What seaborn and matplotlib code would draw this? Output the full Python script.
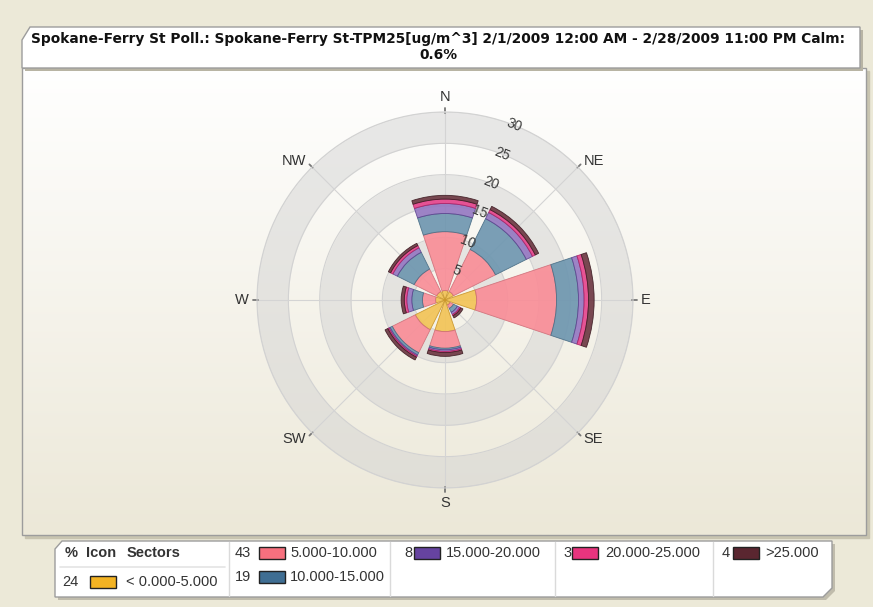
import numpy as np
import seaborn as sns
import matplotlib.pyplot as plt
from matplotlib.patches import Polygon, Rectangle

# data (percent of hours per direction & speed class)
directions = ["N", "NE", "E", "SE", "S", "SW", "W", "NW"]
class_labels = ["< 0.000-5.000", "5.000-10.000", "10.000-15.000",
                "15.000-20.000", "20.000-25.000", ">25.000"]
class_pct = [24, 43, 19, 8, 3, 4]

lt5 = [1.5, 1.5, 5.05, 0.9, 5.05, 5.3, 1.5, 1.5]
c5_10 = [9.4, 7.5, 12.75, 0.6, 2.65, 4.1, 2.1, 4.0]
c10_15 = [2.9, 5.5, 3.5, 0.7, 0.25, 0.4, 1.7, 3.0]
c15_20 = [1.6, 1.1, 0.9, 0.4, 0.25, 0.2, 0.8, 0.8]
c20_25 = [0.7, 0.5, 0.7, 0.2, 0.2, 0.2, 0.4, 0.4]
gt25 = [0.6, 0.6, 0.9, 0.4, 0.6, 0.5, 0.5, 0.4]

ring_ticks = [5, 10, 15, 20, 25, 30]
title = ("Spokane-Ferry St Poll.: Spokane-Ferry St-TPM25[ug/m^3] 2/1/2009 12:00 AM - "
         "2/28/2009 11:00 PM Calm:\n0.6%")

sns.set_theme(style="white")
plt.rcParams['font.family'] = ['Liberation Sans', 'DejaVu Sans']

fills = sns.color_palette(["#F2C457", "#F98E98", "#6F97B0", "#9579C2", "#E5468E", "#6E3944"])
edges = sns.color_palette(["#C9962A", "#D0707A", "#4A6E86", "#5E4490", "#B02466", "#3E1E24"])
icon_fills = sns.color_palette(["#F3B323", "#F7707E", "#3F6E93", "#6643A0", "#E8347E", "#5A2630"])

W, H = 873, 607
fig = plt.figure(figsize=(W / 100, H / 100), dpi=100, facecolor="#ECE9D8")

# background frame in pixel coords
bg = fig.add_axes([0, 0, 1, 1], zorder=0)
bg.set_xlim(0, W)
bg.set_ylim(H, 0)
bg.axis("off")

# plot panel with vertical gradient
grad = np.linspace(0, 1, 256)[:, None]
top = np.array([1.0, 1.0, 1.0])
bot = np.array([236, 232, 216]) / 255
img = top[None, None, :] * (1 - grad[:, :, None]) + bot[None, None, :] * grad[:, :, None]
bg.add_patch(Rectangle((25, 71), 844, 467, color="#C8C4B0", zorder=0))
bg.imshow(img, extent=[22, 866, 535, 68], aspect="auto", zorder=1)
bg.add_patch(Rectangle((22, 68), 844, 467, fill=False, ec="#9C9C9C", lw=1, zorder=2))

# title box
bg.add_patch(Polygon([(25, 43), (33, 30), (863, 30), (863, 71), (25, 71)],
                     closed=True, fc="#B8B4A4", ec="none", zorder=2))
bg.add_patch(Polygon([(22, 40), (30, 27), (860, 27), (860, 68), (22, 68)],
                     closed=True, fc="white", ec="#9C9C9C", lw=1, zorder=3))
bg.text(438, 47, title, ha="center", va="center", fontsize=9.9, fontweight="bold",
        color="#111111", linespacing=1.2, zorder=4, family=["DejaVu Sans"])

# legend box
bg.add_patch(Polygon([(58, 552), (65, 544), (835, 544), (835, 591), (826, 600), (58, 600)],
                     closed=True, fc="#C0BCAC", ec="none", zorder=2))
bg.add_patch(Polygon([(55, 549), (62, 541), (832, 541), (832, 588), (823, 597), (55, 597)],
                     closed=True, fc="white", ec="#9C9C9C", lw=1, zorder=3))
for sx in [229, 390, 555, 713]:
    bg.plot([sx, sx], [542, 596], color="#DADADA", lw=1, zorder=4)
bg.plot([60, 225], [567, 567], color="#E4E4E4", lw=1.2, zorder=4)
lk = dict(fontsize=10.5, color="#333333", va="center", zorder=5)
bg.text(65, 553, "%", fontweight="bold", **lk)
bg.text(86, 553, "Icon", fontweight="bold", **lk)
bg.text(127, 553, "Sectors", fontweight="bold", **lk)

leg_pos = [(62, 90, 126, 582), (235, 259, 290, 553), (235, 259, 290, 577),
           (404, 414, 446, 553), (563, 572, 605, 553), (722, 733, 765, 553)]
for i, (xp, xi, xt, yy) in enumerate(leg_pos):
    bg.text(xp, yy, str(class_pct[i]), **lk)
    bg.add_patch(Rectangle((xi, yy - 6), 26, 12, fc=icon_fills[i], ec="#222222", lw=1, zorder=5))
    bg.text(xt, yy, class_labels[i], **lk)

# polar wind rose
ax = fig.add_axes([0.2944, 0.1961, 0.4307, 0.6194], projection="polar", zorder=1)
ax.set_facecolor("none")
ax.set_theta_zero_location("N")
ax.set_theta_direction(-1)
ax.set_ylim(0, 30)
ax.grid(False)
ax.set_xticks([])
ax.set_yticks([])
ax.spines["polar"].set_color("#D2D2D2")
ax.spines["polar"].set_linewidth(0.8)

full = np.linspace(0, 2 * np.pi, 361)
for i, r in enumerate(ring_ticks):
    if i % 2 == 1:
        ax.fill_between(full, r - 5, r, color="#D4D4D4", alpha=0.5, lw=0, zorder=0)
    ax.plot(full, np.full_like(full, r), color="#D2D2D2", lw=0.8, zorder=1)

theta = np.arange(len(directions)) * 2 * np.pi / len(directions)
for t, name in zip(theta, directions):
    ax.plot([t, t], [0, 30], color="#D4D4D4", lw=0.8, zorder=1)
    ax.plot([t, t], [29.9, 30.6], color="#777777", lw=1.3, zorder=1, clip_on=False)
    s, c = np.sin(t), np.cos(t)
    ha = "center" if abs(s) < 0.1 else ("left" if s > 0 else "right")
    va = "center" if abs(c) < 0.1 else ("bottom" if c > 0 else "top")
    if ha != "center" and va != "center":
        va = "center"
    ax.text(t, 31.3, name, ha=ha, va=va, fontsize=10.5, color="#333333",
            clip_on=False)

series = [lt5, c5_10, c10_15, c15_20, c20_25, gt25]
bottom = np.zeros(len(directions))
width = np.deg2rad(37)
for vals, fc, ec in zip(series, fills, edges):
    ax.bar(theta, vals, width=width, bottom=bottom, color=fc, edgecolor=ec,
           linewidth=0.6, alpha=0.92, zorder=3)
    bottom = bottom + np.array(vals)

lab_t = np.deg2rad(21.5)
for r in ring_ticks:
    ax.text(lab_t, r, str(r), ha="center", va="center", rotation=-21.5,
            rotation_mode="anchor", fontsize=10, color="#3A3A3A", zorder=6)

fig.savefig("out.png", dpi=100, facecolor=fig.get_facecolor())
